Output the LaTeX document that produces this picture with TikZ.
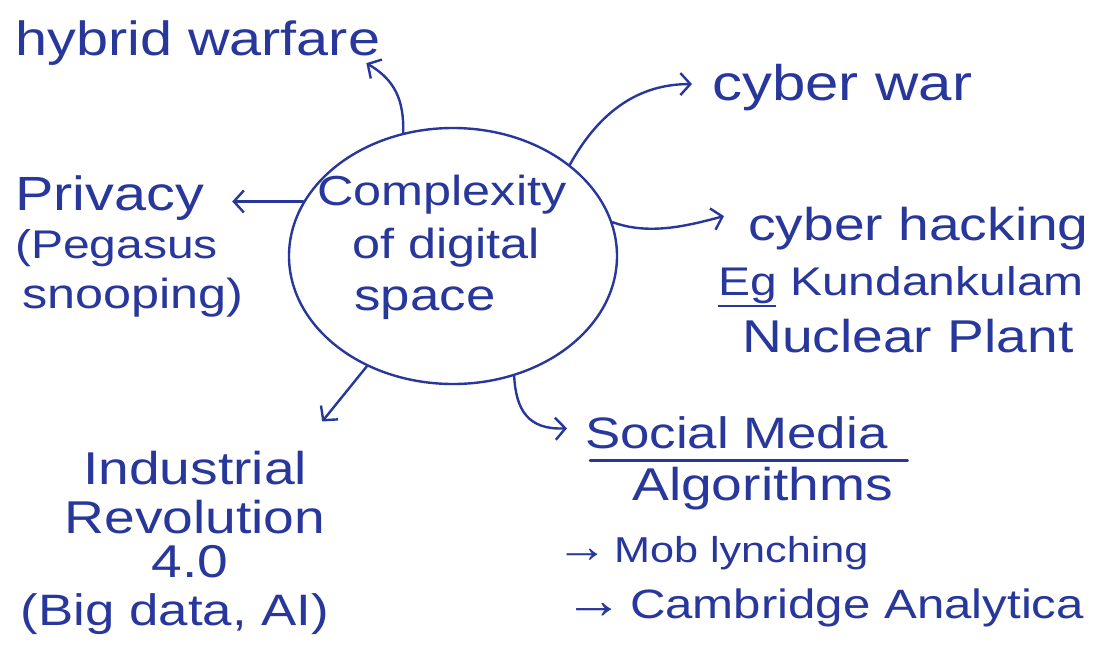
\documentclass[tikz,border=0pt]{standalone}
\usepackage{fontspec}
\setmainfont{Liberation Sans}[FakeStretch=1.2]
\usetikzlibrary{shapes.geometric,arrows.meta,calc}
\definecolor{ink}{RGB}{40,55,155}
\newcommand{\penarrow}{\scalebox{1.2}[1.3]{→}}
\begin{document}
\begin{tikzpicture}[x=1pt,y=-1pt,
  hw/.style={font=\fontsize{#1}{#1}\selectfont, text=ink, inner sep=0pt},
  link/.style={draw=ink, line width=2.4pt, line cap=round, line join=round,
    -{Straight Barb[length=10pt,width=22pt,line width=2.4pt]}},
  hubshape/.style={ellipse, draw=ink, line width=2.4pt, minimum width=328pt,
    minimum height=256pt, inner sep=0pt},
  rulestyle/.style={draw=ink, line width=2.4pt, line cap=round}]
\useasboundingbox[fill=white] (0,0) rectangle (1113,659);

% central bubble
\node[hubshape] (hub) at (453,256) {};
\node[hw=42, anchor=base] (cx1) at (442,205) {Complexity};
\node[hw=42, anchor=base] (cx2) at (446,258) {of digital};
\node[hw=44, anchor=base] (cx3) at (425,310) {space};

% top left
\node[hw=48, anchor=base west] (hyb) at (15,55) {hybrid warfare};

% top right
\node[hw=50, anchor=base west] (cw) at (712,100) {cyber war};

% left
\node[hw=48, anchor=base west] (priv) at (15,210) {Privacy};
\node[hw=40, anchor=base west] (peg) at (15,258) {(Pegasus};
\node[hw=42, anchor=base west] (snoop) at (22,308) {snooping)};

% right
\node[hw=46, anchor=base west] (hack) at (748,240) {cyber hacking};
\node[hw=40, anchor=base west] (eg) at (718,295)
  {\rlap{\rule[-0.3em]{1.45em}{0.06em}}Eg Kundankulam};
\node[hw=46, anchor=base west] (nuc) at (742,352) {Nuclear Plant};

% bottom right
\node[hw=44, anchor=base west] (soc) at (585,448) {Social Media};
\node[hw=46, anchor=base west] (alg) at (632,500) {Algorithms};
\node[hw=36, anchor=base west] (mob) at (556,562) {\penarrow\,Mob lynching};
\node[hw=41, anchor=base west] (cam) at (564,618) {\penarrow\,Cambridge Analytica};

% bottom left
\node[hw=46, anchor=base] (ind1) at (195,484) {Industrial};
\node[hw=46, anchor=base] (ind2) at (195,533) {Revolution};
\node[hw=46, anchor=base] (ind3) at (190,577) {4.0};
\node[hw=44, anchor=base] (ind4) at (175,625) {(Big data, AI)};

% arrow ends next to the labels
\coordinate (hybtip) at ($(hyb.south east)+(-14,-2)$);
\coordinate (cwtip) at ($(cw.west)+(-20,-3)$);
\coordinate (privtip) at ($(hub.160 -| priv.east)+(28,0)$);
\coordinate (hacktip) at ($(hack.west)+(-24,-12)$);
\coordinate (indtip) at ($(ind1.north east)+(15,-29)$);
\coordinate (soctip) at ($(soc.west)+(-18,-4)$);

% connectors
\draw[link] (hub.112) .. controls (404,100) and (395,80) .. (hybtip);
\draw[link] (hub.38) .. controls (600,110) and (640,84) .. (cwtip);
\draw[link] (hub.160) -- (privtip);
\draw[link] (hub.12) .. controls (650,236) and (690,225) .. (hacktip);
\draw[link] (hub.-128) -- (indtip);
\draw[link] (hub.-63) .. controls (516,410) and (528,430) .. (soctip);

% underline of the heading
\draw[rulestyle] ($(soc.south west)+(5,12)$) -- ($(soc.south east)+(20,12)$);
\end{tikzpicture}
\end{document}
